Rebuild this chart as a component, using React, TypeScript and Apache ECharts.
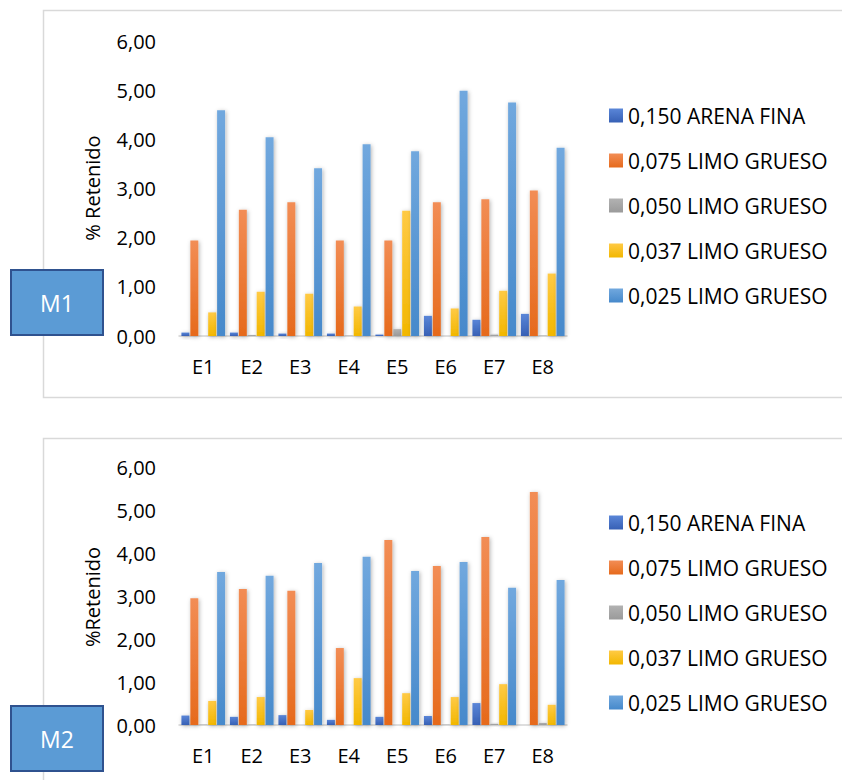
import React, { useEffect, useRef } from "react";
import * as echarts from "echarts";

const categories = ["E1", "E2", "E3", "E4", "E5", "E6", "E7", "E8"];
const seriesNames = [
  "0,150 ARENA FINA",
  "0,075 LIMO GRUESO",
  "0,050 LIMO GRUESO",
  "0,037 LIMO GRUESO",
  "0,025 LIMO GRUESO",
];
const yTicks = [0, 1, 2, 3, 4, 5, 6];

// M1
const m1Arena150 = [0.07, 0.07, 0.05, 0.05, 0.03, 0.41, 0.33, 0.45];
const m1Limo075 = [1.94, 2.57, 2.72, 1.94, 1.94, 2.72, 2.78, 2.96];
const m1Limo050 = [0, 0.02, 0, 0.01, 0.14, 0, 0.03, 0.01];
const m1Limo037 = [0.48, 0.9, 0.86, 0.6, 2.55, 0.56, 0.92, 1.27];
const m1Limo025 = [4.59, 4.04, 3.41, 3.9, 3.76, 4.99, 4.75, 3.83];

// M2
const m2Arena150 = [0.22, 0.19, 0.23, 0.12, 0.19, 0.21, 0.51, 0];
const m2Limo075 = [2.95, 3.16, 3.12, 1.79, 4.3, 3.7, 4.37, 5.42];
const m2Limo050 = [0.01, 0.01, 0, 0, 0, 0.01, 0.03, 0.05];
const m2Limo037 = [0.56, 0.65, 0.35, 1.09, 0.74, 0.65, 0.95, 0.47];
const m2Limo025 = [3.56, 3.47, 3.77, 3.91, 3.58, 3.79, 3.19, 3.37];

const FONT = "'Open Sans', sans-serif";

const grad = (top: string, bottom: string) =>
  new echarts.graphic.LinearGradient(0, 0, 0, 1, [
    { offset: 0, color: top },
    { offset: 1, color: bottom },
  ]);

const colors = [
  ["#5a86d8", "#3760b5"],
  ["#f28d55", "#e66a1c"],
  ["#b2b2b2", "#9a9a9a"],
  ["#ffca45", "#f2b700"],
  ["#71a8de", "#4689cb"],
];

export default function App() {
  const ref = useRef<HTMLDivElement>(null);
  useEffect(() => {
    if (!ref.current) return;
    const chart = echarts.init(ref.current, null, { renderer: "svg" });
    const fmt = (v: number) => v.toFixed(2).replace(".", ",");
    const grids = [
      { left: 179, top: 41, width: 388, height: 295 },
      { left: 179, top: 467, width: 388, height: 258 },
    ];
    const xAxes = grids.map((_, i) => ({
      type: "category",
      gridIndex: i,
      data: categories,
      axisTick: { show: false },
      axisLine: { lineStyle: { color: "#d4d4d4", width: 1.5 } },
      axisLabel: { margin: 20, fontSize: 20, fontFamily: FONT, color: "#000" },
    }));
    const yAxes = grids.map((_, i) => ({
      type: "value",
      gridIndex: i,
      min: yTicks[0],
      max: yTicks[yTicks.length - 1],
      interval: 1,
      axisLine: { show: false },
      axisTick: { show: false },
      splitLine: {
        lineStyle: {
          color: "#d4d4d4",
          width: 1.5,
          shadowBlur: 2,
          shadowColor: "rgba(0,0,0,0.12)",
        },
      },
      axisLabel: {
        margin: 23,
        fontSize: 20,
        fontFamily: FONT,
        color: "#000",
        formatter: fmt,
      },
    }));
    const dataSets = [
      [m1Arena150, m1Limo075, m1Limo050, m1Limo037, m1Limo025],
      [m2Arena150, m2Limo075, m2Limo050, m2Limo037, m2Limo025],
    ];
    const series: any[] = [];
    dataSets.forEach((set, gi) => {
      set.forEach((vals, si) => {
        series.push({
          type: "bar",
          name: seriesNames[si],
          xAxisIndex: gi,
          yAxisIndex: gi,
          data: vals,
          barGap: "12%",
          barCategoryGap: "10%",
          itemStyle: {
            color: grad(colors[si][0], colors[si][1]),
            shadowBlur: 4,
            shadowColor: "rgba(0,0,0,0.3)",
            shadowOffsetX: 1,
            shadowOffsetY: 1,
          },
        });
      });
    });
    const legendBase = {
      orient: "vertical",
      left: 609,
      padding: 0,
      itemWidth: 14,
      itemHeight: 14,
      itemGap: 24,
      icon: "rect",
      selectedMode: false,
      data: seriesNames,
      textStyle: { fontSize: 21, fontFamily: FONT, color: "#000", lineHeight: 20 },
    };
    const mBox = (label: string, y: number) => ({
      type: "group",
      children: [
        {
          type: "rect",
          shape: { x: 11, y, width: 92, height: 65 },
          style: { fill: "#5B9BD5", stroke: "#2F528F", lineWidth: 2 },
        },
        {
          type: "text",
          x: 57,
          y: y + 33,
          style: {
            text: label,
            fill: "#fff",
            fontSize: 23,
            fontFamily: FONT,
            textAlign: "center",
            textVerticalAlign: "middle",
          },
        },
      ],
    });
    const axisTitle = (text: string, y: number) => ({
      type: "text",
      x: 92,
      y,
      rotation: Math.PI / 2,
      style: {
        text,
        fill: "#000",
        fontSize: 20,
        fontFamily: FONT,
        textAlign: "center",
        textVerticalAlign: "middle",
      },
    });
    chart.setOption({
      animation: false,
      grid: grids,
      xAxis: xAxes,
      yAxis: yAxes,
      legend: [
        { ...legendBase, top: 105 },
        { ...legendBase, top: 512 },
      ],
      series,
      graphic: [
        {
          type: "rect",
          z: -10,
          shape: { x: 43.5, y: 10.5, width: 810, height: 387 },
          style: { fill: "none", stroke: "#d9d9d9", lineWidth: 1.5 },
        },
        {
          type: "rect",
          z: -10,
          shape: { x: 43.5, y: 438.5, width: 810, height: 360 },
          style: { fill: "none", stroke: "#d9d9d9", lineWidth: 1.5 },
        },
        axisTitle("% Retenido", 188),
        axisTitle("%Retenido", 597),
        mBox("M1", 270),
        mBox("M2", 706),
      ],
    });
    return () => chart.dispose();
  }, []);
  return (
    <div
      ref={ref}
      style={{ position: "absolute", left: 0, top: 0, width: 842, height: 780, background: "#fff" }}
    />
  );
}
